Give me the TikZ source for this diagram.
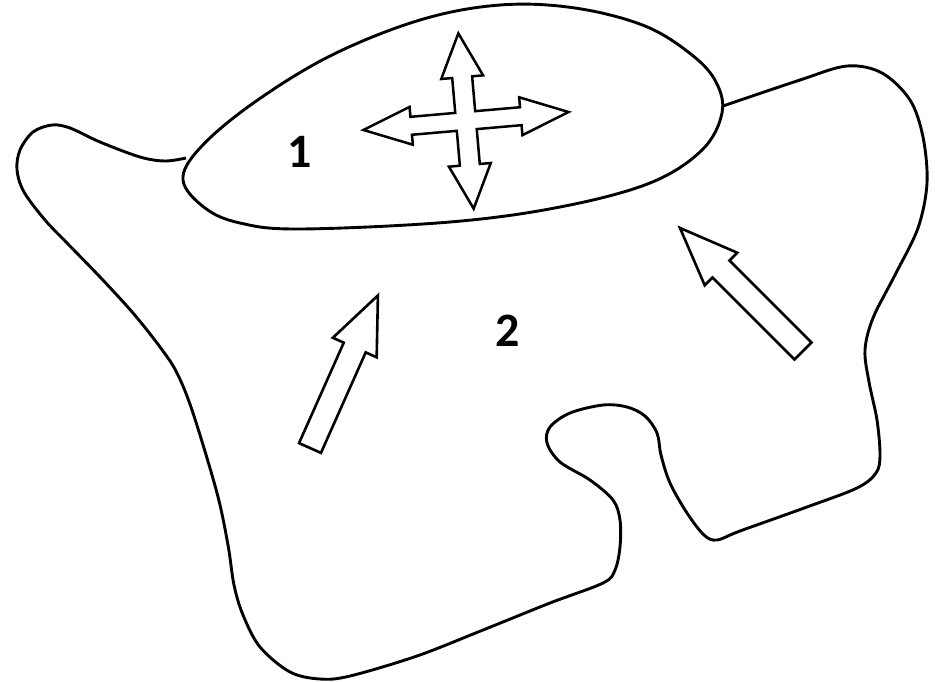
\documentclass[tikz,border=0pt]{standalone}
\usepackage{fontspec}
\newfontfamily\labfont{Carlito}
\begin{document}
\begin{tikzpicture}[x=1pt,y=-1pt,
  outline/.style={line width=2.9pt, black, line join=round},
  blockarrow/.style={line width=2.6pt, black, fill=white, line join=miter},
  lab/.style={font=\labfont\bfseries\fontsize{48}{48}\selectfont, inner sep=0pt}]
\useasboundingbox (0,0) rectangle (935,681);
\fill[white] (0,0) rectangle (935,681);

% outer region 2 boundary
\draw[outline] plot[smooth, tension=0.55] coordinates {
 (186,158) (165,161) (140,157) (100,142) (70,128) (52,125) (33,132) (20,150)
 (17,170) (24,192) (45,220) (67,243) (100,277) (133,313) (160,347) (177,373)
 (193,413) (217,493) (228,545) (234,585) (243,615) (260,647) (290,672) (320,679)
 (350,676) (417,656) (483,630) (550,603) (603,583) (615,570) (620,547)
 (620,520) (613,500) (590,480) (560,462) (547,443) (550,427) (570,413)
 (603,405) (627,407) (645,416) (657,433) (661,455) (670,483) (687,513)
 (704,535) (717,540) (740,531) (807,507) (857,488) (876,473) (880,455)
 (877,420) (869,382) (865,350) (873,318) (895,275) (918,228)
 (927,183) (923,137) (910,100) (882,73) (847,66) (800,80) (723,106)};

% region 1 (egg)
\draw[outline] plot[smooth cycle, tension=0.6] coordinates {
 (183,180) (205,208) (240,223) (300,229) (450,222) (560,207) (650,183)
 (702,150) (722,113) (716,82) (692,55) (645,26) (575,8) (500,5) (420,20)
 (330,56) (252,104) (200,148)};

\node[lab] (one) at (300,152) {1};
\node[lab] (two) at (508,331) {2};

% four-way arrow
\begin{scope}[shift={(466,121)}, rotate=5]
\draw[blockarrow, line width=2.5pt]
 (10,-44) -- (21,-44) -- (0,-88) -- (-21,-44) -- (-10,-44) -- (-10,-9)
 -- (-55,-9) -- (-55,-19) -- (-103,0) -- (-55,19) -- (-55,9) -- (-10,9)
 -- (-10,44) -- (-21,44) -- (0,88) -- (21,44) -- (10,44) -- (10,9)
 -- (55,9) -- (55,19) -- (103,0) -- (55,-19) -- (55,-9) -- (10,-9) -- cycle;
\end{scope}

% left block arrow
\begin{scope}[shift={(310,448)}, rotate=66]
\draw[blockarrow] (0,-12) -- (110,-12) -- (110,-24) -- (167,0) -- (110,24)
 -- (110,12) -- (0,12) -- cycle;
\end{scope}

% right block arrow
\begin{scope}[shift={(803,351)}, rotate=135]
\draw[blockarrow] (0,-12) -- (116,-12) -- (116,-23) -- (174,0) -- (116,23)
 -- (116,12) -- (0,12) -- cycle;
\end{scope}
\end{tikzpicture}
\end{document}
